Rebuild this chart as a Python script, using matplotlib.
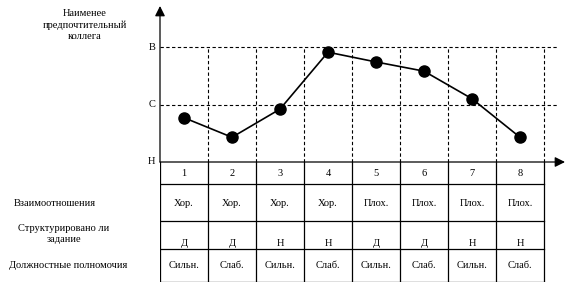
import numpy as np
import matplotlib.pyplot as plt

plt.rcParams['font.family'] = ['Liberation Serif', 'DejaVu Serif']

# data
positions = [1, 2, 3, 4, 5, 6, 7, 8]
scores = [0.77, 0.43, 0.92, 1.91, 1.74, 1.58, 1.10, 0.43]   # Н=0, С=1, В=2
level_ticks = [0, 1, 2]
level_labels = ['Н', 'С', 'В']

row_names = ['Взаимоотношения', 'Структурировано ли\nзадание', 'Должностные полномочия']
relations = ['Хор.', 'Хор.', 'Хор.', 'Хор.', 'Плох.', 'Плох.', 'Плох.', 'Плох.']
structured = ['Д', 'Д', 'Н', 'Н', 'Д', 'Д', 'Н', 'Н']
power = ['Сильн.', 'Слаб.', 'Сильн.', 'Слаб.', 'Сильн.', 'Слаб.', 'Сильн.', 'Слаб.']
title = 'Наименее\nпредпочтительный\nколлега'

W, H = 569, 289
fig = plt.figure(figsize=(W / 100, H / 100), dpi=100)

def fx(px):
    return px / W

def fy(py):
    return 1 - py / H

# chart part, pixel layout: axis at x=160, col width 48, H at y=162, B at y=47
x0, colw = 160, 48
y_h, unit = 162, 57.5
xmax = 0.5 + (565 - x0) / colw
ymax = (y_h - 6) / unit
ax = fig.add_axes([fx(x0), fy(y_h), fx(565 - x0), (y_h - 6) / H])
ax.set_xlim(0.5, xmax)
ax.set_ylim(0, ymax)
ax.axis('off')

dash = (0, (3, 2.2))
for lv in level_ticks[1:]:
    ax.plot([0.5, 0.5 + (557 - x0) / colw], [lv, lv], color='black', lw=0.8, linestyle=dash)
for k in range(1, 9):
    ax.plot([k + 0.5, k + 0.5], [0, 2], color='black', lw=0.8, linestyle=dash)

ax.annotate('', xy=(xmax, 0), xytext=(0.5, 0),
            arrowprops=dict(arrowstyle='-|>', color='black', lw=0.9, mutation_scale=15, shrinkA=0, shrinkB=0))
ax.annotate('', xy=(0.5, ymax), xytext=(0.5, 0),
            arrowprops=dict(arrowstyle='-|>', color='black', lw=0.9, mutation_scale=15, shrinkA=0, shrinkB=0))
for lv, lab in zip(level_ticks, level_labels):
    ax.text(0.4, lv, lab, ha='right', va='center', fontsize=7.5)

ax.plot(positions, scores, color='black', lw=1.2, marker='o', markersize=8, clip_on=False)

# table part
tb = fig.add_axes([fx(x0), fy(282), fx(565 - x0), (282 - y_h) / H])
tb.set_xlim(0.5, xmax)
tb.set_ylim(120, 0)
tb.axis('off')
row_edges = [0, 22, 59, 87, 120]
row_mid = [11, 41, 81, 103]
for k in range(9):
    tb.plot([k + 0.5, k + 0.5], [0, 120], color='black', lw=0.9)
for e in row_edges[1:]:
    tb.plot([0.5, 8.5], [e, e], color='black', lw=0.9)
for i, p in enumerate(positions):
    tb.text(p, row_mid[0], str(p), ha='center', va='center', fontsize=7.5)
    tb.text(p, row_mid[1], relations[i], ha='center', va='center', fontsize=7.5)
    tb.text(p, row_mid[2], structured[i], ha='center', va='center', fontsize=7.5)
    tb.text(p, row_mid[3], power[i], ha='center', va='center', fontsize=7.5)

label_pos = [(55, 203), (64, 234), (68, 266)]
for name, (px, py) in zip(row_names, label_pos):
    fig.text(fx(px), fy(py), name, ha='center', va='center', fontsize=7.5, linespacing=1.15)
fig.text(fx(85), fy(25), title, ha='center', va='center', fontsize=7.5, linespacing=1.35)

fig.savefig('out.png', dpi=100)
